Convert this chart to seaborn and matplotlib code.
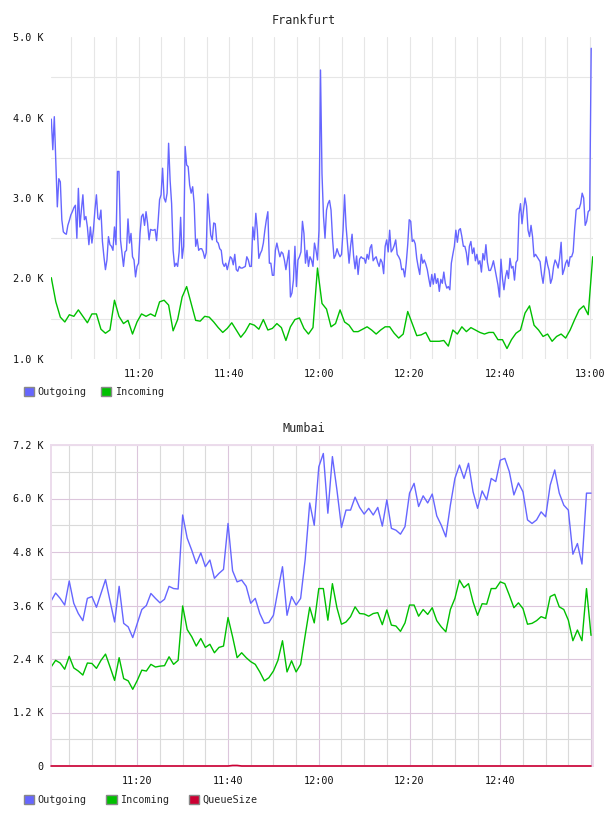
import pandas as pd
import matplotlib
matplotlib.use('Agg')
import matplotlib.pyplot as plt
import matplotlib.dates as mdates
from matplotlib.patches import Patch
from matplotlib.ticker import MultipleLocator, FuncFormatter
import seaborn as sns

# values in thousands (K)
fra_start = '2024-01-01 11:00:36'
fra_out = [
    3.98, 3.60, 4.01, 3.45, 2.89, 3.24, 3.20, 2.73, 2.58, 2.56,
    2.55, 2.66, 2.72, 2.79, 2.83, 2.88, 2.91, 2.50, 3.12, 2.64,
    2.85, 3.04, 2.73, 2.77, 2.64, 2.42, 2.64, 2.44, 2.60, 2.85,
    3.04, 2.75, 2.73, 2.85, 2.46, 2.27, 2.11, 2.23, 2.52, 2.42,
    2.40, 2.35, 2.64, 2.42, 3.33, 3.33, 2.48, 2.31, 2.15, 2.33,
    2.35, 2.74, 2.44, 2.56, 2.27, 2.23, 2.02, 2.15, 2.19, 2.56,
    2.77, 2.80, 2.66, 2.83, 2.69, 2.48, 2.61, 2.60, 2.60, 2.61,
    2.47, 2.70, 2.98, 3.04, 3.37, 3.00, 2.95, 3.06, 3.68, 3.22,
    2.93, 2.35, 2.15, 2.19, 2.15, 2.33, 2.76, 2.25, 2.40, 3.64,
    3.41,
    3.39, 3.16, 3.06, 3.14, 2.93, 2.40, 2.49, 2.35, 2.37, 2.37,
    2.33, 2.25, 2.32, 3.05, 2.79, 2.54, 2.48, 2.69, 2.68, 2.46,
    2.44, 2.37, 2.35, 2.19, 2.15, 2.19, 2.11, 2.19, 2.27, 2.25,
    2.17, 2.30, 2.11, 2.09, 2.15, 2.13, 2.13, 2.14, 2.15, 2.27,
    2.23, 2.15, 2.15, 2.64, 2.48, 2.81, 2.60, 2.25, 2.31, 2.35,
    2.44, 2.60, 2.73, 2.83, 2.19, 2.19, 2.04, 2.04, 2.35, 2.44,
    2.35, 2.27, 2.33, 2.31, 2.23, 2.11, 2.23, 2.35, 1.77, 1.82,
    1.98, 2.40, 1.90, 2.23, 2.27, 2.33, 2.71, 2.56, 2.19, 2.35,
    2.15, 2.27, 2.23, 2.15, 2.44, 2.35, 2.23, 2.60, 4.59,
    3.30, 2.77, 2.50, 2.85, 2.93, 2.97, 2.85, 2.50, 2.25, 2.29,
    2.37, 2.31, 2.27, 2.30, 2.60, 3.04, 2.65, 2.42, 2.19, 2.40,
    2.55, 2.28, 2.12, 2.28, 2.05, 2.24, 2.27, 2.25, 2.25, 2.19,
    2.30, 2.24, 2.38, 2.42, 2.22, 2.25, 2.27, 2.20, 2.15, 2.24,
    2.20, 2.06, 2.40, 2.48, 2.33, 2.60, 2.33, 2.36, 2.41, 2.48,
    2.30, 2.27, 2.23, 2.11, 2.12, 2.02, 2.19, 2.42, 2.73, 2.71,
    2.46, 2.48, 2.43, 2.25, 2.14, 2.05, 2.30, 2.19, 2.23, 2.18,
    2.11, 2.00, 1.90, 2.05, 1.93, 2.06, 1.94, 2.00, 1.84, 1.99,
    1.94, 2.08, 1.94, 1.88, 1.90, 1.86, 2.19, 2.30, 2.40, 2.60,
    2.45, 2.60,
    2.62, 2.52, 2.40, 2.40, 2.32, 2.17, 2.40, 2.46, 2.31, 2.38,
    2.22, 2.30, 2.18, 2.22, 2.08, 2.31, 2.23, 2.42, 2.20, 2.10,
    2.10, 2.15, 2.22, 2.12, 2.02, 1.92, 1.77, 2.24, 2.00, 1.86,
    2.02, 2.10, 2.00, 2.25, 2.13, 2.15, 1.98, 2.20, 2.23, 2.80,
    2.93, 2.68, 2.85, 3.00, 2.90, 2.60, 2.52, 2.66, 2.52, 2.27,
    2.30, 2.27, 2.24, 2.21, 2.05, 1.94, 2.10, 2.27, 2.17, 2.10,
    1.94, 2.00, 2.15, 2.23, 2.19, 2.13, 2.25, 2.45, 2.05, 2.11,
    2.19, 2.23, 2.15, 2.27, 2.27, 2.33, 2.62, 2.85, 2.87, 2.87,
    2.93, 3.06, 3.00, 2.66, 2.71, 2.83, 2.85, 4.86,
]
fra_in = [
    2.01, 1.71, 1.52, 1.46, 1.55, 1.53, 1.61, 1.53, 1.45, 1.56,
    1.56, 1.37, 1.32, 1.36, 1.73, 1.53, 1.44, 1.48, 1.31, 1.46,
    1.56, 1.53, 1.56, 1.53, 1.71, 1.73, 1.67, 1.35, 1.49, 1.77,
    1.90, 1.69, 1.48, 1.47, 1.53, 1.52, 1.46, 1.39, 1.33, 1.38,
    1.45, 1.36, 1.27, 1.34, 1.44, 1.42, 1.37, 1.49, 1.36, 1.38,
    1.44, 1.39, 1.23, 1.40, 1.49, 1.51, 1.38, 1.31, 1.39, 2.13,
    1.69, 1.62, 1.40, 1.44, 1.61, 1.46, 1.42, 1.34, 1.34, 1.37,
    1.40, 1.36, 1.31, 1.36, 1.40, 1.40, 1.32, 1.26, 1.31, 1.59,
    1.44, 1.29, 1.30, 1.33, 1.22, 1.22, 1.22, 1.23, 1.16, 1.36,
    1.31, 1.40, 1.34, 1.39, 1.36, 1.33, 1.31, 1.33, 1.33, 1.24,
    1.24, 1.13, 1.24, 1.32, 1.36, 1.57, 1.66, 1.42, 1.36, 1.28,
    1.31, 1.22, 1.28, 1.31, 1.26, 1.36, 1.49, 1.61, 1.66, 1.55,
    2.27,
]

mum_start = '2024-01-01 11:01:00'
mum_out = [
    3.70, 3.88, 3.76, 3.61, 4.15, 3.65, 3.42, 3.26, 3.76, 3.80,
    3.56, 3.87, 4.18, 3.70, 3.23, 4.03, 3.20, 3.12, 2.88, 3.20,
    3.51, 3.60, 3.87, 3.76, 3.66, 3.74, 4.03, 3.98, 3.97, 5.63,
    5.11, 4.84, 4.54, 4.78, 4.47, 4.62, 4.21, 4.32, 4.41, 5.44,
    4.38, 4.13, 4.17, 4.03, 3.65, 3.76, 3.42, 3.20, 3.22, 3.38,
    3.94, 4.47, 3.38, 3.80, 3.61, 3.76, 4.63, 5.90, 5.40, 6.71,
    7.01, 5.67, 6.94, 6.19, 5.35, 5.74, 5.74, 6.03, 5.80, 5.65,
    5.78, 5.63, 5.80, 5.38, 5.97, 5.33, 5.29, 5.20, 5.37, 6.12,
    6.34, 5.82, 6.06, 5.90, 6.10, 5.61, 5.40, 5.14, 5.85, 6.45,
    6.75, 6.45, 6.79, 6.15, 5.78, 6.17, 5.97, 6.45, 6.38, 6.86,
    6.90, 6.60, 6.08, 6.35, 6.15, 5.52, 5.44, 5.52, 5.70, 5.59,
    6.30, 6.64, 6.12, 5.85, 5.74, 4.75, 4.99, 4.53, 6.12, 6.12,
]
mum_in = [
    2.22, 2.37, 2.31, 2.17, 2.46, 2.20, 2.13, 2.04, 2.31, 2.30,
    2.19, 2.37, 2.51, 2.22, 1.92, 2.43, 1.96, 1.91, 1.72, 1.92,
    2.15, 2.13, 2.28, 2.22, 2.24, 2.25, 2.45, 2.28, 2.37, 3.59,
    3.06, 2.90, 2.69, 2.86, 2.66, 2.73, 2.54, 2.66, 2.69, 3.33,
    2.90, 2.43, 2.54, 2.43, 2.34, 2.28, 2.11, 1.91, 1.98, 2.13,
    2.37, 2.81, 2.11, 2.36, 2.11, 2.28, 2.93, 3.56, 3.21, 3.98,
    3.98, 3.27, 4.09, 3.55, 3.18, 3.23, 3.35, 3.57, 3.42, 3.41,
    3.36, 3.42, 3.44, 3.17, 3.50, 3.16, 3.14, 3.02, 3.21, 3.61,
    3.61, 3.36, 3.51, 3.40, 3.55, 3.26, 3.12, 3.01, 3.51, 3.76,
    4.17, 4.00, 4.09, 3.68, 3.38, 3.64, 3.63, 3.98, 3.98, 4.13,
    4.09, 3.83, 3.55, 3.66, 3.53, 3.18, 3.20, 3.26, 3.35, 3.31,
    3.80, 3.85, 3.57, 3.51, 3.27, 2.81, 3.05, 2.81, 3.98, 2.93,
]
mum_queue = [0.0] * 40 + [0.012, 0.012] + [0.0] * 78

OUT = '#6666ff'
IN = '#00c000'
QUEUE = '#cc0033'
MONO = 'DejaVu Sans Mono'

sns.set_style('white')
plt.rcParams['font.family'] = MONO


def frame(start, freq, values, name):
    return pd.DataFrame({
        'time': pd.date_range(start, periods=len(values), freq=freq),
        'value': [v * 1000 for v in values],
        'series': name,
    })


fra = pd.concat([frame(fra_start, '20s', fra_out, 'Outgoing'),
                 frame(fra_start, '1min', fra_in, 'Incoming')])
mum = pd.concat([frame(mum_start, '1min', mum_out, 'Outgoing'),
                 frame(mum_start, '1min', mum_in, 'Incoming'),
                 frame(mum_start, '1min', mum_queue, 'QueueSize')])
colors = {'Outgoing': OUT, 'Incoming': IN, 'QueueSize': QUEUE}


def k_label(v, pos):
    if abs(v) < 1e-6:
        return '0'
    return f'{v / 1000:.1f} K'


def time_label(x, pos, skip=None):
    t = mdates.num2date(x)
    s = t.strftime('%H:%M')
    return '' if s == skip else s


fig = plt.figure(figsize=(6.08, 8.16), dpi=100)
ax1 = fig.add_axes([51 / 608, 1 - 359 / 816, 542 / 608, 322 / 816])
ax2 = fig.add_axes([51 / 608, 1 - 766 / 816, 542 / 608, 321 / 816])

sns.lineplot(data=fra, x='time', y='value', hue='series', palette=colors,
             estimator=None, linewidth=1.0, legend=False, ax=ax1)
sns.lineplot(data=mum, x='time', y='value', hue='series', palette=colors,
             estimator=None, linewidth=1.0, legend=False, ax=ax2)
queue_line = ax2.lines[-1]
queue_line.set_clip_on(False)
queue_line.set_linewidth(1.2)
queue_line.set_zorder(5)

ax1.set_xlim(pd.Timestamp('2024-01-01 11:00:32'), pd.Timestamp('2024-01-01 13:00:40'))
ax1.set_ylim(1000, 5000)
ax2.set_xlim(pd.Timestamp('2024-01-01 11:00:59'), pd.Timestamp('2024-01-01 13:00:26'))
ax2.set_ylim(0, 7200)

for ax in (ax1, ax2):
    ax.set_xlabel('')
    ax.set_ylabel('')
    ax.set_axisbelow(True)
    ax.xaxis.set_major_locator(mdates.MinuteLocator(byminute=[0, 20, 40]))
    ax.xaxis.set_minor_locator(mdates.MinuteLocator(byminute=range(0, 60, 5)))
    ax.yaxis.set_major_formatter(FuncFormatter(k_label))
    ax.tick_params(which='both', length=0, labelsize=7.3, colors='#111111')
    ax.tick_params(axis='x', pad=7)
    ax.tick_params(axis='y', pad=5.5)

ax1.xaxis.set_major_formatter(FuncFormatter(time_label))
ax2.xaxis.set_major_formatter(FuncFormatter(lambda x, p: time_label(x, p, skip='13:00')))

ax1.yaxis.set_major_locator(MultipleLocator(1000))
ax1.yaxis.set_minor_locator(MultipleLocator(500))
ax1.grid(True, which='both', axis='x', color='#e6e6e6', lw=0.8)
ax1.grid(True, which='minor', axis='y', color='#e6e6e6', lw=0.8)
for s in ax1.spines.values():
    s.set_visible(False)

ax2.yaxis.set_major_locator(MultipleLocator(1200))
ax2.yaxis.set_minor_locator(MultipleLocator(600))
ax2.grid(True, which='major', color='#dcc6dc', lw=0.8)
ax2.grid(True, which='minor', color='#dadada', lw=0.8)
for s in ax2.spines.values():
    s.set_visible(True)
    s.set_color('#ecdcec')
    s.set_linewidth(1.4)

fig.text(0.5, 1 - 20 / 816, 'Frankfurt', ha='center', va='center', fontsize=8.5)
fig.text(0.5, 1 - 429 / 816, 'Mumbai', ha='center', va='center', fontsize=8.5)

legend_style = dict(loc='center left', frameon=False, handlelength=1.0, handleheight=1.0,
                    handletextpad=0.35, borderpad=0, borderaxespad=0,
                    prop={'family': MONO, 'size': 7.3})
fig.legend(handles=[Patch(facecolor=OUT, edgecolor='#888888', label='Outgoing'),
                    Patch(facecolor=IN, edgecolor='#888888', label='Incoming')],
           bbox_to_anchor=(24 / 608, 1 - 392 / 816), ncol=2, columnspacing=1.4,
           **legend_style)
fig.legend(handles=[Patch(facecolor=OUT, edgecolor='#888888', label='Outgoing'),
                    Patch(facecolor=IN, edgecolor='#888888', label='Incoming'),
                    Patch(facecolor=QUEUE, edgecolor='#888888', label='QueueSize')],
           bbox_to_anchor=(24 / 608, 1 - 800 / 816), ncol=3, columnspacing=1.95,
           **legend_style)

fig.savefig('out.png', dpi=100)
